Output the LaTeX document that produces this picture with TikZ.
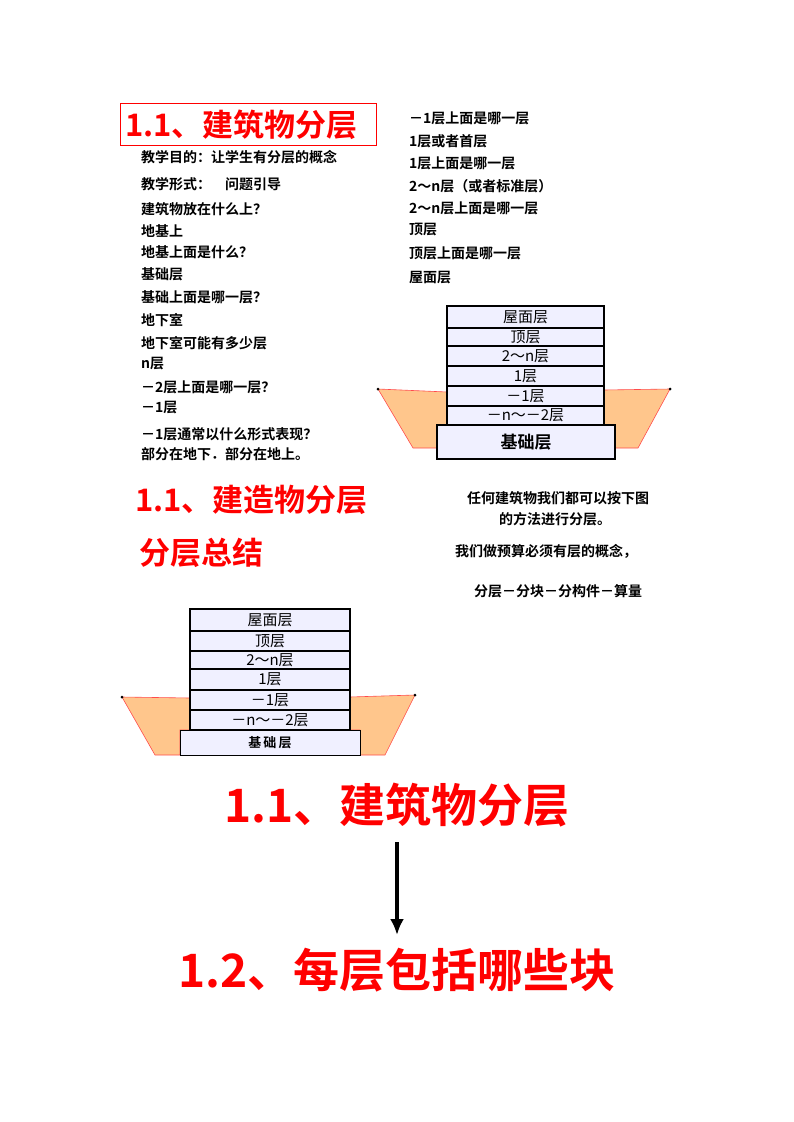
\documentclass[tikz,border=0pt]{standalone}
\usepackage{fontspec}
\usetikzlibrary{arrows.meta}
\setmainfont{Liberation Sans}
\newfontfamily\cjk{Noto Sans CJK SC}[BoldFont={* Bold}]
\begin{document}
\begin{tikzpicture}[x=1pt,y=-1pt,
 lt/.style={anchor=west,inner sep=0pt,font=\cjk\bfseries\fontsize{14}{16}\selectfont},
 rt/.style={text=red,font=\cjk\bfseries\fontsize{31}{34}\selectfont,inner sep=0pt},
 flr/.style={draw=black,line width=2.2pt,fill=blue!6,inner sep=0pt},
 soil/.style={fill=orange!45,draw=red!70,line width=0.6pt}]
\useasboundingbox (0,0) rectangle (793,1122);
% title box
\draw[draw=red,line width=0.8pt] (120,103) rectangle (376,145);
\node[rt,anchor=west] (t1) at (125,125) {1.1、建筑物分层};
% left text
\foreach \y/\t [count=\i] in {157/教学目的：让学生有分层的概念, 184/教学形式：\quad 问题引导, 209/建筑物放在什么上？, 231/地基上, 252/地基上面是什么？, 274/基础层, 297/基础上面是哪一层？, 320/地下室, 343/地下室可能有多少层, 364/n层, 387/－2层上面是哪一层？, 408/－1层, 434/－1层通常以什么形式表现？, 454/部分在地下．部分在地上。}
  \node[lt] (l\i) at (141,\y) {\t};
\foreach \y/\t [count=\i] in {118/－1层上面是哪一层, 141/1层或者首层, 163/1层上面是哪一层, 186/2～n层（或者标准层）, 208/2～n层上面是哪一层, 230/顶层, 253/顶层上面是哪一层, 278/屋面层}
  \node[lt] (r\i) at (409,\y) {\t};
% building 1
\draw[soil] (378,389) -- (447,392) -- (447,425) -- (437,425) -- (437,448) -- (413,448) -- cycle;
\draw[soil] (604,390) -- (670,389) -- (638,448) -- (615,448) -- (615,425) -- (604,425) -- cycle;
\fill (378,389) circle (1.5); \fill (670,389) circle (1.5);
\foreach \a/\b/\t [count=\i] in {306/328/屋面层, 328/346/顶层, 346/366/2～n层, 366/386/1层, 386/406/－1层, 406/425/－n～－2层}
  \node[flr,minimum width=157,minimum height=\b-\a,font=\cjk\fontsize{15}{15}\selectfont] (a\i) at (525.5,{(\a+\b)/2}) {\t};
\node[flr,minimum width=178,minimum height=34,font=\cjk\bfseries\fontsize{17}{17}\selectfont] (af) at (526,442) {基础层};
% middle
\node[rt,anchor=west] (t2) at (135,500) {1.1、建造物分层};
\node[rt,anchor=west] (t3) at (139,553) {分层总结};
\node[lt,anchor=center] (m1) at (558,498) {任何建筑物我们都可以按下图};
\node[lt,anchor=center] (m2) at (555,519) {的方法进行分层。};
\node[lt,anchor=center] (m3) at (546,551) {我们做预算必须有层的概念，};
\node[lt,anchor=center] (m4) at (558,591) {分层－分块－分构件－算量};
% building 2
\draw[soil] (122,697) -- (190,698) -- (190,730) -- (180,730) -- (180,755) -- (155,755) -- cycle;
\draw[soil] (350,697) -- (415,695) -- (385,755) -- (360,755) -- (360,730) -- (350,730) -- cycle;
\fill (122,697) circle (1.5); \fill (415,695) circle (1.5);
\foreach \a/\b/\t [count=\i] in {609/631/屋面层, 631/651/顶层, 651/669/2～n层, 669/690/1层, 690/710/－1层, 710/730/－n～－2层}
  \node[flr,minimum width=160,minimum height=\b-\a,font=\cjk\fontsize{15}{15}\selectfont] (b\i) at (270,{(\a+\b)/2}) {\t};
\node[flr,line width=1pt,minimum width=180,minimum height=25,font=\cjk\bfseries\fontsize{13}{13}\selectfont] (bf) at (270,742.5) {基\,础\,层};
% big titles
\node[rt,font=\cjk\bfseries\fontsize{46}{50}\selectfont] (big1) at (397,805) {1.1、建筑物分层};
\node[rt,font=\cjk\bfseries\fontsize{46}{50}\selectfont] (big2) at (397,970) {1.2、每层包括哪些块};
\draw[line width=3.5pt,-{Latex[length=16pt,width=14pt]}] (397,842) coordinate (s) -- (397,935) coordinate (e);
\end{tikzpicture}
\end{document}
